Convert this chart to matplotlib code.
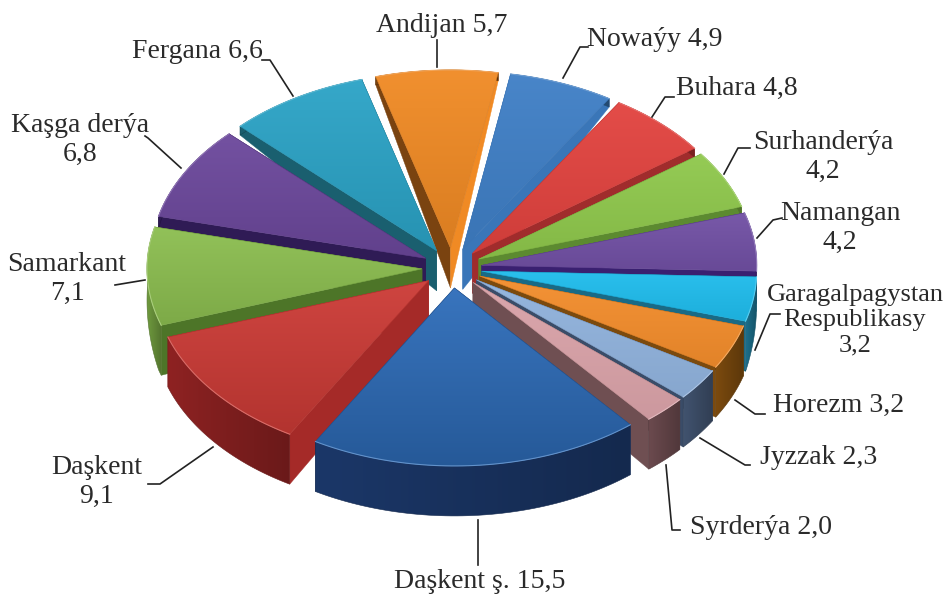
import numpy as np
import matplotlib
matplotlib.use("Agg")
import matplotlib.pyplot as plt
from matplotlib.colors import LinearSegmentedColormap, to_rgb
from matplotlib.patches import Polygon

# clockwise from just right of the top
names = ["Nowaýy 4,9", "Buhara 4,8", "Surhanderýa\n4,2", "Namangan\n4,2",
         "Garagalpagystan\nRespublikasy\n3,2", "Horezm 3,2", "Jyzzak 2,3", "Syrderýa 2,0",
         "Daşkent ş. 15,5", "Daşkent\n9,1", "Samarkant\n7,1", "Kaşga derýa\n6,8",
         "Fergana 6,6", "Andijan 5,7"]
values = [4.9, 4.8, 4.2, 4.2, 3.2, 3.2, 2.3, 2.0, 15.5, 9.1, 7.1, 6.8, 6.6, 5.7]
top_colors = ["#3F7FC6", "#E2433F", "#8FC84C", "#7150A4", "#1FBCEC", "#F38D2C", "#90B2DC",
              "#D9A2A8", "#2E6DBA", "#CC3B36", "#8CBE50", "#6C489C", "#2BA3C6", "#F08A24"]
wall_colors = ["#3A76B8", "#A02C2C", "#5C8A30", "#3A2070", "#1A6A85", "#7B4A0E", "#3A4C68",
               "#6F4F52", "#1B3768", "#A52A28", "#4D7528", "#2F1B55", "#1A5F6F", "#7A4310"]
rim_colors = ["#2F6296", "#A02C2C", "#6A9A38", "#4A2C80", "#1C6E8A", "#7B4A0E", "#41536F",
              "#6B4A4E", "#1B3768", "#8E2222", "#6F9A3E", "#2F1B55", "#1A5F6F", "#7A4310"]
# label position and leader line for each slice
label_xy = [(655, 40), (737, 88), (823, 157), (840, 228), (855, 320), (839, 405), (819, 457),
            (761, 527), (480, 582), (97, 482), (67, 279), (80, 140), (197, 52), (442, 26)]
leaders = [[(563, 78), (580, 47), (588, 47)], [(652, 117), (665, 97), (674, 97)],
           [(724, 174), (738, 148), (750, 148)], [(757, 238), (773, 220), (782, 218)],
           [(755, 350), (770, 314), (780, 314)], [(735, 400), (755, 414), (765, 414)],
           [(700, 438), (745, 465), (750, 465)], [(666, 465), (672, 530), (680, 530)],
           [(478, 520), (478, 565)], [(213, 447), (160, 484), (148, 484)],
           [(145, 280), (115, 285)], [(181, 168), (148, 138), (145, 136)],
           [(293, 96), (270, 60), (262, 60)], [(437, 67), (437, 40)]]

start_angle = 10
cx, cy = 452, 268
rx, ry = 275, 178
ex, ey = 30, 20
tip_depth = 40


def mix(c, other, t):
    c = np.array(to_rgb(c))
    return tuple(c * (1 - t) + np.array(to_rgb(other)) * t)


def depth(y):
    return np.interp(y, [70, 210, 320, 520], [8, 10, 50, 50])


def fill_gradient(ax, pts, c1, c2, z, vertical=True):
    poly = Polygon(pts, closed=True, fc="none", ec="none", zorder=z)
    ax.add_patch(poly)
    cmap = LinearSegmentedColormap.from_list("g", [c1, c2])
    grad = np.linspace(0, 1, 64)
    grad = grad.reshape(-1, 1) if vertical else grad.reshape(1, -1)
    x0, y0 = pts.min(axis=0)
    x1, y1 = pts.max(axis=0)
    im = ax.imshow(grad, cmap=cmap, extent=(x0, x1, y1, y0), aspect="auto", zorder=z,
                   interpolation="bilinear")
    im.set_clip_path(poly)
    # thin outline keeps clipped edges from looking jagged
    ax.add_patch(Polygon(pts, closed=True, fc="none", ec=c2, lw=0.4, zorder=z))


plt.rcParams["font.family"] = ["Liberation Serif", "DejaVu Serif"]
fig = plt.figure(figsize=(9.44, 5.95), dpi=100)
ax = fig.add_axes([0, 0, 1, 1])

fracs = np.array(values) / sum(values) * 360
ends = start_angle + np.cumsum(fracs)
starts = ends - fracs
mids = np.radians((starts + ends) / 2)

order = np.argsort(-np.cos(mids))
z = 2
for i in order:
    th = np.radians(np.linspace(starts[i], ends[i], 60))
    tip = np.array([cx + ex * np.sin(mids[i]), cy - ey * np.cos(mids[i])])
    arc = np.column_stack([tip[0] + rx * np.sin(th), tip[1] - ry * np.cos(th)])
    tip_low = tip + [0, tip_depth]
    low = arc + np.column_stack([np.zeros(len(arc)), depth(arc[:, 1])])

    # radial walls
    c_start = wall_colors[i]
    c_end = wall_colors[i]
    if names[i].startswith("Andijan"):
        c_end = top_colors[i]
    ax.add_patch(Polygon([tip, arc[0], low[0], tip_low], fc=c_start, ec=c_start, lw=0.3, zorder=z))
    ax.add_patch(Polygon([tip, arc[-1], low[-1], tip_low], fc=c_end, ec=c_end, lw=0.3, zorder=z))
    z += 1
    # outer rim
    rim = np.vstack([arc, low[::-1]])
    fill_gradient(ax, rim, rim_colors[i], mix(rim_colors[i], "black", 0.25), z, vertical=False)
    z += 1
    # top face, bigger slices darken more towards the front
    top = np.vstack([tip, arc])
    dark = 0.04 + fracs[i] / 70 * 0.14
    fill_gradient(ax, top, mix(top_colors[i], "white", 0.05), mix(top_colors[i], "black", dark), z)
    ax.plot(arc[:, 0], arc[:, 1], color=mix(top_colors[i], "white", 0.25), lw=0.8, zorder=z)
    z += 1

for line, pos, name in zip(leaders, label_xy, names):
    xs, ys = zip(*line)
    ax.plot(xs, ys, color="#222222", lw=1.2, zorder=z)
    size = 19 if name.startswith("Garagal") else 20
    ax.text(pos[0], pos[1], name, ha="center", va="center", fontsize=size, color="#2a2a2a",
            linespacing=1.2, zorder=z + 1)

ax.set_xlim(0, 944)
ax.set_ylim(595, 0)
ax.axis("off")
fig.savefig("out.png", dpi=100)
